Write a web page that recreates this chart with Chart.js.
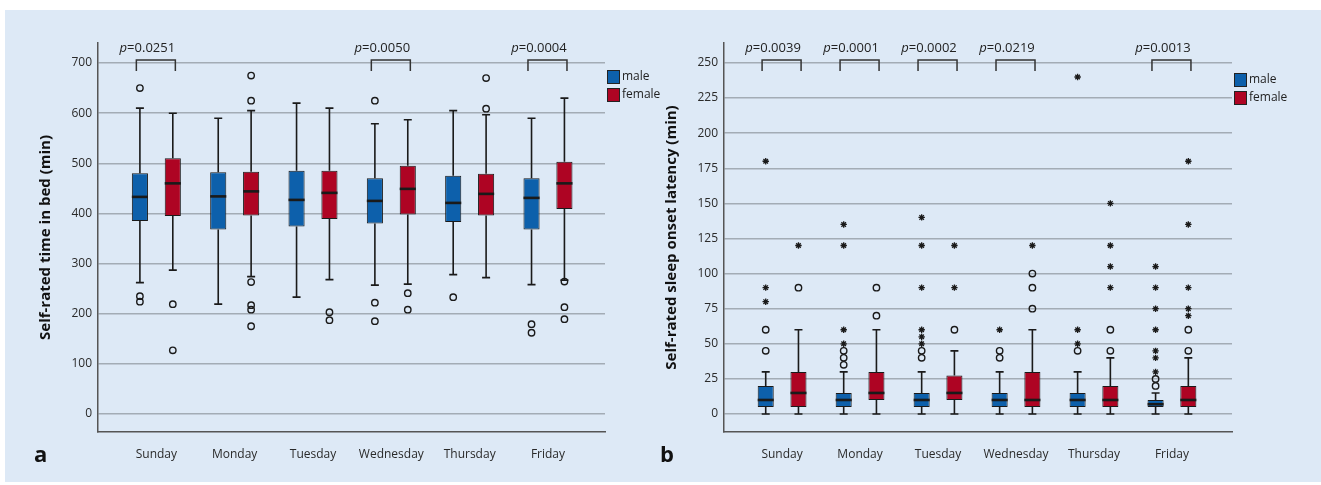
<!DOCTYPE html>
<html>
<head>
<meta charset="utf-8">
<script src="https://cdn.jsdelivr.net/npm/chart.js@4.4.1/dist/chart.umd.min.js"></script>
<style>
body { margin: 0; width: 1321px; height: 485px; background: #fff; position: relative; overflow: hidden; }
#bg { position: absolute; left: 5px; top: 10px; width: 1316px; height: 472px; background: #dde9f6; }
canvas { position: absolute; top: 0; }
#chartA { left: 0; }
#chartB { left: 626px; }
</style>
</head>
<body>
<div id="bg"></div>
<canvas id="chartA" width="690" height="485"></canvas>
<canvas id="chartB" width="695" height="485"></canvas>
<script>
const days = ['Sunday', 'Monday', 'Tuesday', 'Wednesday', 'Thursday', 'Friday'];

// panel a - time in bed, each box is [low whisker, q1, median, q3, high whisker]
const bedMale = [[262, 385, 433, 480, 610], [219, 368, 434, 482, 590], [233, 374, 427, 485, 620], [257, 380, 425, 470, 579], [278, 383, 421, 475, 605], [258, 368, 431, 470, 590]];
const bedFemale = [[287, 395, 460, 510, 600], [274, 396, 444, 483, 605], [268, 389, 441, 485, 610], [259, 398, 449, 495, 587], [272, 396, 439, 479, 597], [267, 409, 460, 503, 630]];
const bedMaleOut = [[650, 235, 224], [], [], [625, 222, 185], [233], [179, 162]];
const bedFemaleOut = [[219, 127], [675, 625, 263, 217, 208, 175], [203, 187], [241, 208], [670, 609], [264, 213, 189]];
const bedP = ['0.0251', null, null, '0.0050', null, '0.0004'];
const bedTicks = [0, 100, 200, 300, 400, 500, 600, 700];

// panel b - sleep onset latency
const latMale = [[0, 5, 10, 20, 30], [0, 5, 10, 15, 30], [0, 5, 10, 15, 30], [0, 5, 10, 15, 30], [0, 5, 10, 15, 30], [0, 5, 7, 10, 15]];
const latFemale = [[0, 5, 15, 30, 60], [0, 10, 15, 30, 60], [0, 10, 15, 27.5, 45], [0, 5, 10, 30, 60], [0, 5, 10, 20, 40], [0, 5, 10, 20, 40]];
const latMaleOut = [[60, 45], [45, 40, 35], [45, 40], [45, 40], [45], [25, 20]];
const latFemaleOut = [[90], [90, 70], [60], [100, 90, 75], [60, 45], [60, 45]];
const latMaleStar = [[180, 90, 80], [135, 120, 60, 50], [140, 120, 90, 60, 55, 50], [60], [240, 60, 50], [105, 90, 75, 60, 45, 40, 30]];
const latFemaleStar = [[120], [], [120, 90], [120], [150, 120, 105, 90], [180, 135, 90, 75, 70]];
const latP = ['0.0039', '0.0001', '0.0002', '0.0219', null, '0.0013'];
const latTicks = [0, 25, 50, 75, 100, 125, 150, 175, 200, 225, 250];

const maleColor = '#0d60ab';
const femaleColor = '#ae0423';
const ink = '#1a1a1a';

Chart.defaults.font.family = '"Open Sans", sans-serif';
Chart.defaults.font.size = 12;
Chart.defaults.color = '#2a2a2a';

// whiskers, medians, outliers, p brackets and legend
const boxPlot = {
    id: 'boxPlot',
    afterDatasetsDraw(chart, args, opts) {
        const ctx = chart.ctx;
        const area = chart.chartArea;
        const x = chart.scales.x;
        const y = chart.scales.y;
        ctx.save();
        chart.data.datasets.forEach((ds, di) => {
            const meta = chart.getDatasetMeta(di);
            meta.data.forEach((bar, i) => {
                const [lo, q1, med, q3, hi] = ds.box[i];
                const cx = bar.x;
                const half = bar.width / 2;
                ctx.strokeStyle = ink;
                ctx.lineWidth = 1.6;
                ctx.beginPath();
                ctx.moveTo(cx, y.getPixelForValue(q3));
                ctx.lineTo(cx, y.getPixelForValue(hi));
                ctx.moveTo(cx, y.getPixelForValue(q1));
                ctx.lineTo(cx, y.getPixelForValue(lo));
                ctx.moveTo(cx - 4, y.getPixelForValue(hi));
                ctx.lineTo(cx + 4, y.getPixelForValue(hi));
                ctx.moveTo(cx - 4, y.getPixelForValue(lo));
                ctx.lineTo(cx + 4, y.getPixelForValue(lo));
                ctx.stroke();
                ctx.lineWidth = 2.6;
                ctx.beginPath();
                ctx.moveTo(cx - half, y.getPixelForValue(med));
                ctx.lineTo(cx + half, y.getPixelForValue(med));
                ctx.stroke();
                ctx.lineWidth = 1.4;
                (ds.out[i] || []).forEach(v => {
                    ctx.beginPath();
                    ctx.arc(cx, y.getPixelForValue(v), 3.2, 0, Math.PI * 2);
                    ctx.stroke();
                });
                ctx.lineWidth = 1.3;
                (ds.star[i] || []).forEach(v => {
                    Chart.helpers.drawPoint(ctx, { pointStyle: 'star', radius: 3.2, rotation: 0, borderWidth: 1.3 }, cx, y.getPixelForValue(v));
                });
            });
        });

        // p-value brackets
        ctx.strokeStyle = '#333';
        ctx.fillStyle = '#222';
        ctx.lineWidth = 1.5;
        opts.p.forEach((p, i) => {
            if (!p) return;
            const cx = x.getPixelForValue(i);
            ctx.beginPath();
            ctx.moveTo(cx - 20, area.top + 28);
            ctx.lineTo(cx - 20, area.top + 17);
            ctx.lineTo(cx + 19, area.top + 17);
            ctx.lineTo(cx + 19, area.top + 28);
            ctx.stroke();
            ctx.font = 'italic 13px "Open Sans"';
            const w1 = ctx.measureText('p').width;
            ctx.font = '13px "Open Sans"';
            const w2 = ctx.measureText('=' + p).width;
            const left = cx - 9 - (w1 + w2) / 2;
            ctx.textBaseline = 'alphabetic';
            ctx.textAlign = 'left';
            ctx.font = 'italic 13px "Open Sans"';
            ctx.fillText('p', left, area.top + 9);
            ctx.font = '13px "Open Sans"';
            ctx.fillText('=' + p, left + w1, area.top + 9);
        });

        // legend
        chart.data.datasets.forEach((ds, di) => {
            const lx = area.right + 2;
            const ly = area.top + opts.legendTop + di * 18;
            ctx.fillStyle = ds.backgroundColor;
            ctx.fillRect(lx, ly, 12, 13);
            ctx.strokeStyle = '#222';
            ctx.lineWidth = 1;
            ctx.strokeRect(lx + 0.5, ly + 0.5, 12, 13);
            ctx.fillStyle = '#222';
            ctx.font = '12px "Open Sans"';
            ctx.textBaseline = 'middle';
            ctx.fillText(ds.label, lx + 15, ly + 7);
        });

        // panel letter
        ctx.font = 'bold 22px "Open Sans"';
        ctx.fillStyle = '#111';
        ctx.textBaseline = 'alphabetic';
        ctx.fillText(opts.letter, 34, 462);
        ctx.restore();
    }
};

function makeChart(id, male, female, maleOut, femaleOut, maleStar, femaleStar, pvals, ticks, yMin, yMax, xMax, title, letter, legendTop, padRight) {
    return new Chart(document.getElementById(id), {
        type: 'bar',
        data: {
            datasets: [{
                label: 'male',
                data: male.map((b, i) => ({ x: i, y: [b[1], b[3]] })),
                box: male, out: maleOut, star: maleStar,
                backgroundColor: maleColor
            }, {
                label: 'female',
                data: female.map((b, i) => ({ x: i, y: [b[1], b[3]] })),
                box: female, out: femaleOut, star: femaleStar,
                backgroundColor: femaleColor
            }]
        },
        options: {
            responsive: false,
            animation: false,
            categoryPercentage: 0.84,
            barPercentage: 0.49,
            borderColor: ink,
            borderWidth: 1,
            borderSkipped: false,
            layout: { padding: { left: 37, right: padRight, top: 43, bottom: 23 } },
            plugins: {
                legend: { display: false },
                tooltip: { enabled: false },
                boxPlot: { p: pvals, letter: letter, legendTop: legendTop }
            },
            scales: {
                x: {
                    type: 'linear',
                    offset: false,
                    min: -0.745,
                    max: xMax,
                    grid: { display: false },
                    border: { color: '#555', width: 1.5 },
                    afterBuildTicks: s => { s.ticks = days.map((d, i) => ({ value: i })); },
                    afterFit: s => { s.height = 30; },
                    ticks: { padding: 7, autoSkip: false, maxRotation: 0, callback: v => days[v] }
                },
                y: {
                    min: yMin,
                    max: yMax,
                    afterBuildTicks: s => { s.ticks = ticks.map(v => ({ value: v })); },
                    afterFit: s => { s.width = 61; },
                    grid: { color: '#a3acb5', lineWidth: 1.5, drawTicks: false },
                    border: { color: '#555', width: 1.5 },
                    ticks: { padding: 6 },
                    title: { display: true, text: title, color: '#111', padding: 0, font: { size: 15, weight: 'bold' } }
                }
            }
        },
        plugins: [boxPlot]
    });
}

makeChart('chartA', bedMale, bedFemale, bedMaleOut, bedFemaleOut, [], [], bedP, bedTicks, -36, 740, 5.728, 'Self-rated time in bed (min)', 'a', 27, 85);
makeChart('chartB', latMale, latFemale, latMaleOut, latFemaleOut, latMaleStar, latFemaleStar, latP, latTicks, -12.8, 264.2, 5.77, 'Self-rated sleep onset latency (min)', 'b', 30, 89);
</script>
</body>
</html>
